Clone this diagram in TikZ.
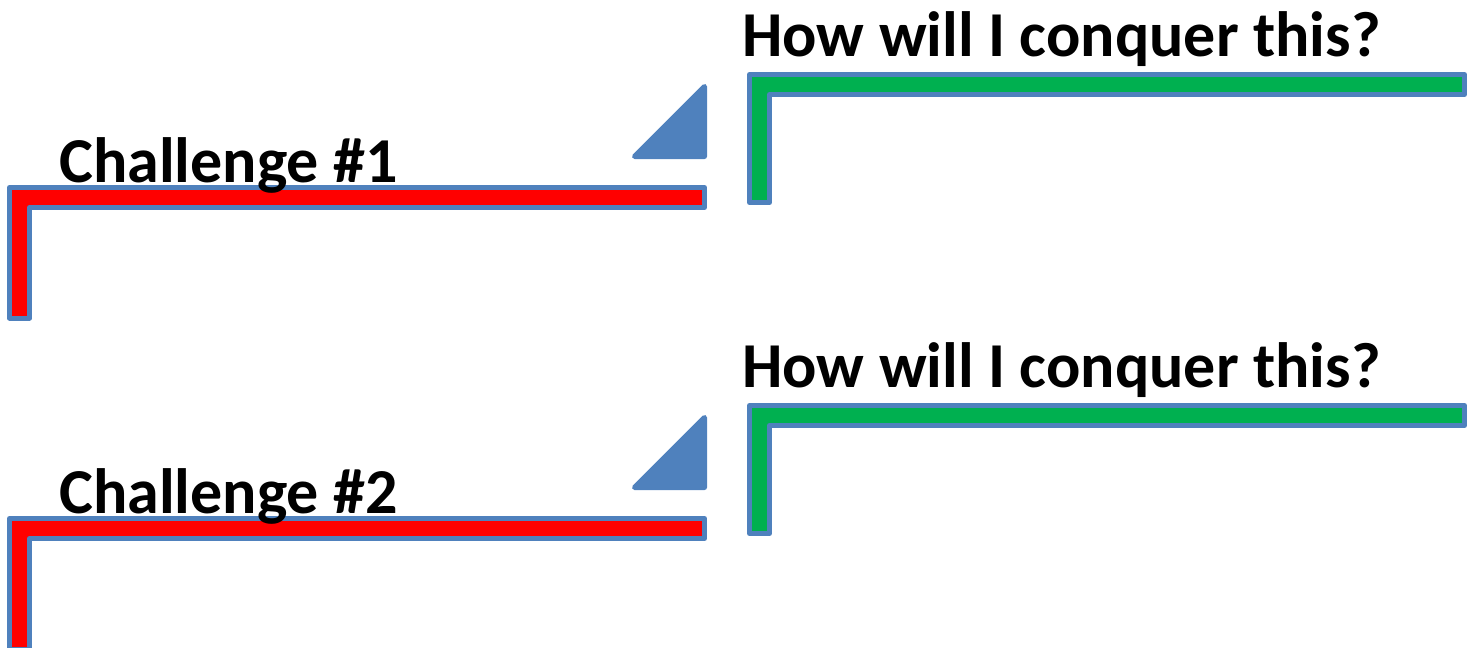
\documentclass[tikz,border=0pt]{standalone}
\usepackage{fontspec}
\setmainfont{Carlito}
\definecolor{edgeblue}{HTML}{4F81BD}
\definecolor{barred}{HTML}{FF0000}
\definecolor{bargreen}{HTML}{00B050}
\tikzset{
  lbar/.style={draw=edgeblue, line width=5pt, line join=round},
  wedge/.style={draw=edgeblue, fill=edgeblue, line width=5pt, line join=round},
  heading/.style={anchor=base west, inner sep=0pt, font=\fontsize{64}{70}\selectfont\bfseries}
}
\begin{document}
\begin{tikzpicture}[x=1pt, y=-1pt]
  \useasboundingbox (0,0) rectangle (1476,648);
  \clip (0,0) rectangle (1476,648);
  \foreach \dy/\n in {0/1, 331/2} {
    \begin{scope}[yshift=-\dy pt]
      % challenge bracket
      \draw[lbar, fill=barred] (9.5,187.5) -- (704.5,187.5) -- (704.5,207.5) -- (29.5,207.5)
        -- (29.5,318) -- (9.5,318) -- cycle;
      % answer bracket
      \draw[lbar, fill=bargreen] (749.5,74.5) -- (1464.5,74.5) -- (1464.5,94.5) -- (769.5,94.5)
        -- (769.5,202.5) -- (749.5,202.5) -- cycle;
      % arrow wedge between them
      \draw[wedge] (704.5,86.5) -- (704.5,156.5) -- (634.5,156.5) -- cycle;
      \node[heading] (challenge\n) at (59,182) {Challenge \#\n};
      \node[heading] (question\n) at (742,56) {How will I conquer this?};
    \end{scope}
  }
\end{tikzpicture}
\end{document}
